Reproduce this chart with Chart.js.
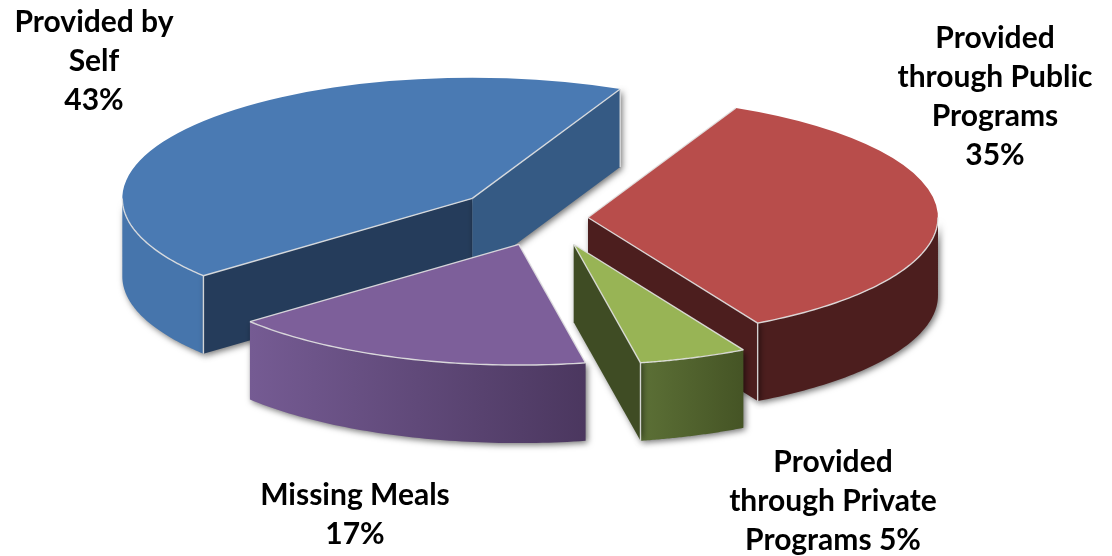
<!DOCTYPE html>
<html>
<head>
<meta charset="utf-8">
<title>Meals</title>
<script src="https://cdn.jsdelivr.net/npm/chart.js@4"></script>
<style>
  html, body { margin: 0; background: #fff; }
  canvas { display: block; }
</style>
</head>
<body>
<canvas id="myChart" width="1112" height="556"></canvas>
<script>
// Data
const categories = ['Provided through Public Programs', 'Provided through Private Programs', 'Missing Meals', 'Provided by Self'];
const shares = [35, 5, 17, 43];

// Slice colours
const topColors = ['#b84d4b', '#98b455', '#7d5f9a', '#4a7ab3'];
const outerLeft = ['#4c1e1e', '#5c7036', '#755b93', '#4675ac'];
const outerRight = ['#4c1e1e', '#455425', '#4b375f', '#4675ac'];
const startWallColors = ['#4c1e1e', '#3f4c24', '#4b375f', '#253c5b']; // wall at the slice's first angle
const endWallColors = ['#4c1e1e', '#3f4c24', '#4b375f', '#355a84'];   // wall at the slice's last angle

// Labels: lines are drawn centred at x, first baseline at y
const labels = [
  { lines: ['Provided by', 'Self', '43%'], x: 94, y: 32 },
  { lines: ['Provided', 'through Public', 'Programs', '35%'], x: 995, y: 48 },
  { lines: ['Provided', 'through Private', 'Programs 5%'], x: 833, y: 472 },
  { lines: ['Missing Meals', '17%'], x: 355, y: 505 }
];

// Fake 3D set-up
const center = { x: 546, y: 218 };
const radius = 350;
const tilt = 0.345;
const depth = 78;
const explode = [42, 81, 81, 93];
const paintOrder = [3, 0, 1, 2];
const edgeColor = 'rgba(226, 226, 226, 0.9)';

function origin(arc, i) {
  const mid = (arc.startAngle + arc.endAngle) / 2;
  return {
    x: center.x + explode[i] * Math.cos(mid),
    y: center.y + explode[i] * Math.sin(mid) * tilt
  };
}

function project(o, angle, z) {
  return { x: o.x + radius * Math.cos(angle), y: o.y + radius * Math.sin(angle) * tilt + z };
}

// Part of the arc that faces the viewer (canvas angle between 0 and PI)
function frontRange(arc) {
  const TAU = Math.PI * 2;
  for (let k = -1; k <= 1; k++) {
    const from = Math.max(arc.startAngle, k * TAU);
    const to = Math.min(arc.endAngle, k * TAU + Math.PI);
    if (to > from) return [from, to];
  }
  return null;
}

function drawWall(ctx, o, angle, color) {
  const p = project(o, angle, 0);
  const q = project(o, angle, depth);
  ctx.beginPath();
  ctx.moveTo(o.x, o.y);
  ctx.lineTo(p.x, p.y);
  ctx.lineTo(q.x, q.y);
  ctx.lineTo(o.x, o.y + depth);
  ctx.closePath();
  ctx.fillStyle = color;
  ctx.fill();
}

function drawOuter(ctx, o, range, i) {
  const [from, to] = range;
  const a = project(o, from, 0);
  const b = project(o, to, 0);
  const grad = ctx.createLinearGradient(Math.min(a.x, b.x), 0, Math.max(a.x, b.x), 0);
  grad.addColorStop(0, outerLeft[i]);
  grad.addColorStop(1, outerRight[i]);
  ctx.beginPath();
  for (let n = 0; n <= 60; n++) {
    const p = project(o, from + (to - from) * n / 60, 0);
    n ? ctx.lineTo(p.x, p.y) : ctx.moveTo(p.x, p.y);
  }
  for (let n = 60; n >= 0; n--) {
    const p = project(o, from + (to - from) * n / 60, depth);
    ctx.lineTo(p.x, p.y);
  }
  ctx.closePath();
  ctx.fillStyle = grad;
  ctx.fill();
}

function strokeLine(ctx, a, b) {
  ctx.beginPath();
  ctx.moveTo(a.x, a.y);
  ctx.lineTo(b.x, b.y);
  ctx.stroke();
}

const pie3d = {
  id: 'pie3d',
  beforeDatasetsDraw(chart) {
    const ctx = chart.ctx;
    const arcs = chart.getDatasetMeta(0).data;
    paintOrder.forEach(i => {
      const arc = arcs[i];
      const o = origin(arc, i);
      const range = frontRange(arc);
      const startFaces = Math.sin(arc.startAngle - Math.PI / 2) > 0;
      const endFaces = Math.sin(arc.endAngle + Math.PI / 2) > 0;

      // sides, with a soft shadow
      ctx.save();
      ctx.shadowColor = 'rgba(0, 0, 0, 0.55)';
      ctx.shadowBlur = 6;
      ctx.shadowOffsetX = 2;
      ctx.shadowOffsetY = 2;
      if (range) drawOuter(ctx, o, range, i);
      if (startFaces) drawWall(ctx, o, arc.startAngle, startWallColors[i]);
      if (endFaces) drawWall(ctx, o, arc.endAngle, endWallColors[i]);
      ctx.restore();

      // top face: the library's own arc under a squashing transform
      ctx.save();
      ctx.translate(o.x, o.y);
      ctx.scale(radius / arc.outerRadius, tilt * radius / arc.outerRadius);
      ctx.translate(-arc.x, -arc.y);
      arc.draw(ctx);
      ctx.restore();

      // light edges
      ctx.save();
      ctx.strokeStyle = edgeColor;
      ctx.lineWidth = 1.4;
      if (range) {
        ctx.beginPath();
        for (let n = 0; n <= 60; n++) {
          const p = project(o, range[0] + (range[1] - range[0]) * n / 60, 0);
          n ? ctx.lineTo(p.x, p.y) : ctx.moveTo(p.x, p.y);
        }
        ctx.stroke();
      }
      const start = project(o, arc.startAngle, 0);
      const end = project(o, arc.endAngle, 0);
      strokeLine(ctx, o, start);
      strokeLine(ctx, o, end);
      if (startFaces) strokeLine(ctx, start, project(o, arc.startAngle, depth));
      if (endFaces) strokeLine(ctx, end, project(o, arc.endAngle, depth));
      ctx.restore();
    });
    return false;
  },
  afterDraw(chart) {
    const ctx = chart.ctx;
    ctx.save();
    ctx.fillStyle = '#000';
    ctx.font = 'bold 30px Lato, sans-serif';
    ctx.textAlign = 'center';
    labels.forEach(l => {
      l.lines.forEach((line, n) => ctx.fillText(line, l.x, l.y + n * 39));
    });
    ctx.restore();
  }
};

const myChart = new Chart(document.getElementById('myChart').getContext('2d'), {
  type: 'pie',
  data: {
    labels: categories,
    datasets: [{
      data: shares,
      backgroundColor: topColors,
      borderWidth: 0
    }]
  },
  options: {
    responsive: false,
    animation: false,
    rotation: 25,
    plugins: {
      legend: { display: false },
      tooltip: { enabled: false }
    }
  },
  plugins: [pie3d]
});
</script>
</body>
</html>
